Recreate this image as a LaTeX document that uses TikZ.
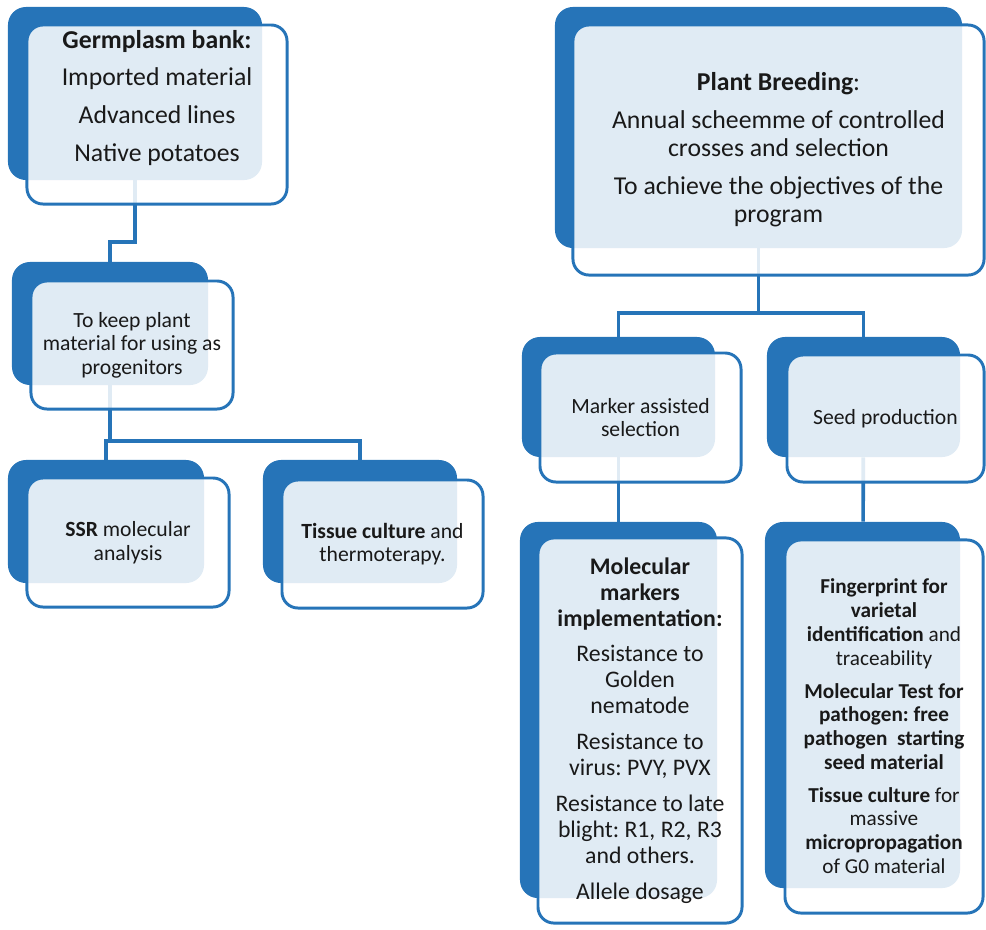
\documentclass[tikz,border=0pt]{standalone}
\usepackage{fontspec}
\setmainfont{Carlito}
\frenchspacing
\usepackage{tikz}
\usetikzlibrary{positioning,calc}
\definecolor{boxblue}{RGB}{38,116,184}
\definecolor{txtgray}{RGB}{25,25,25}
\tikzstyle{Bbox}=[shape=rectangle,rounded corners=0.45cm,fill=boxblue,inner sep=0pt]
\tikzstyle{Fbox}=[shape=rectangle,rounded corners=0.4cm,draw=boxblue,line width=2.1pt,fill=white,fill opacity=0.86,text opacity=1,text=txtgray,align=center,inner sep=0pt]
\tikzstyle{link}=[draw=boxblue,line width=2.6pt]
\tikzstyle{bigtext}=[font=\fontsize{18.3}{20}\selectfont]
\tikzstyle{midtext}=[font=\fontsize{15.4}{16.8}\selectfont]

\begin{document}
\begin{tikzpicture}[x=0.025cm,y=-0.025cm]
\useasboundingbox (0,0) rectangle (986,929);

% back boxes
\node[Bbox,minimum width=6.35cm,minimum height=4.325cm] (GERMb) at (135,93.5){};
\node[Bbox,minimum width=4.9cm,minimum height=3.075cm] (KEEPb) at (110,323.5){};
\node[Bbox,minimum width=4.9cm,minimum height=3.075cm] (SSRb) at (106,521.5){};
\node[Bbox,minimum width=4.85cm,minimum height=3.075cm] (TISSb) at (360,521.5){};
\node[Bbox,minimum width=10.175cm,minimum height=6.025cm] (BREEDb) at (758.5,127.5){};
\node[Bbox,minimum width=4.825cm,minimum height=3cm] (MASb) at (618.5,397){};
\node[Bbox,minimum width=4.825cm,minimum height=3cm] (SEEDb) at (863.5,397){};
\node[Bbox,minimum width=4.925cm,minimum height=9.4cm] (MMb) at (618.5,710){};
\node[Bbox,minimum width=4.875cm,minimum height=9.15cm] (FPb) at (862.5,705){};

% connectors
\draw[link] (GERMb.south) -- ++(0,62) -| (KEEPb.north);
\draw[link] (KEEPb.south) -- ++(0,56) coordinate (KJ) -| (SSRb.north);
\draw[link] (KJ) -| (TISSb.north);
\draw[link] (BREEDb.south) -- ++(0,65) coordinate (BJ) -| (MASb.north);
\draw[link] (BJ) -| (SEEDb.north);
\path
(MASb) edge [link] (MMb)
(SEEDb) edge [link] (FPb);

% front boxes
\node[Fbox,minimum width=6.5cm,minimum height=4.475cm] (GERM) at (157,114.5){};
\node[bigtext,align=center,text=txtgray] (GERMtxt) at (157,98){\textbf{Germplasm bank:}\\[7pt]Imported material\\[7pt]Advanced lines\\[7pt]Native potatoes};

\node[Fbox,midtext,minimum width=5.05cm,minimum height=3.2cm] (KEEP) at (132,345){To keep plant\\material for using as\\progenitors};

\node[Fbox,midtext,minimum width=5.05cm,minimum height=3.225cm] (SSR) at (128,542.5){\textbf{SSR} molecular\\analysis};

\node[Fbox,midtext,minimum width=5.025cm,minimum height=3.2cm] (TISS) at (382.5,544){\textbf{Tissue culture} and\\thermoterapy.};

\node[Fbox,bigtext,minimum width=10.275cm,minimum height=6.25cm] (BREED) at (778.5,150){\textbf{Plant Breeding}:\\[7pt]Annual scheemme of controlled\\crosses and selection\\[7pt]To achieve the objectives of the\\program};

\node[Fbox,midtext,minimum width=5.025cm,minimum height=3.225cm] (MAS) at (640.5,417.5){Marker assisted\\selection};

\node[Fbox,midtext,minimum width=4.925cm,minimum height=3.175cm] (SEED) at (885.5,418.5){Seed production};

\node[Fbox,font=\fontsize{16.9}{18.5}\selectfont,minimum width=5.1cm,minimum height=9.625cm] (MM) at (640,730.5){\textbf{Molecular}\\\textbf{markers}\\\textbf{implementation:}\\[7pt]Resistance to\\Golden\\nematode\\[7pt]Resistance to\\virus: PVY, PVX\\[7pt]Resistance to late\\blight: R1, R2, R3\\and others.\\[7pt]Allele dosage};

\node[Fbox,font=\fontsize{15.1}{17}\selectfont,minimum width=4.95cm,minimum height=9.325cm] (FP) at (884,726.5){\textbf{Fingerprint for}\\\textbf{varietal}\\\textbf{identification} and\\traceability\\[6pt]\textbf{Molecular Test for}\\\textbf{pathogen: free}\\\textbf{pathogen~ starting}\\\textbf{seed material}\\[6pt]\textbf{Tissue culture} for\\massive\\\textbf{micropropagation}\\of G0 material};

\end{tikzpicture}
\end{document}
